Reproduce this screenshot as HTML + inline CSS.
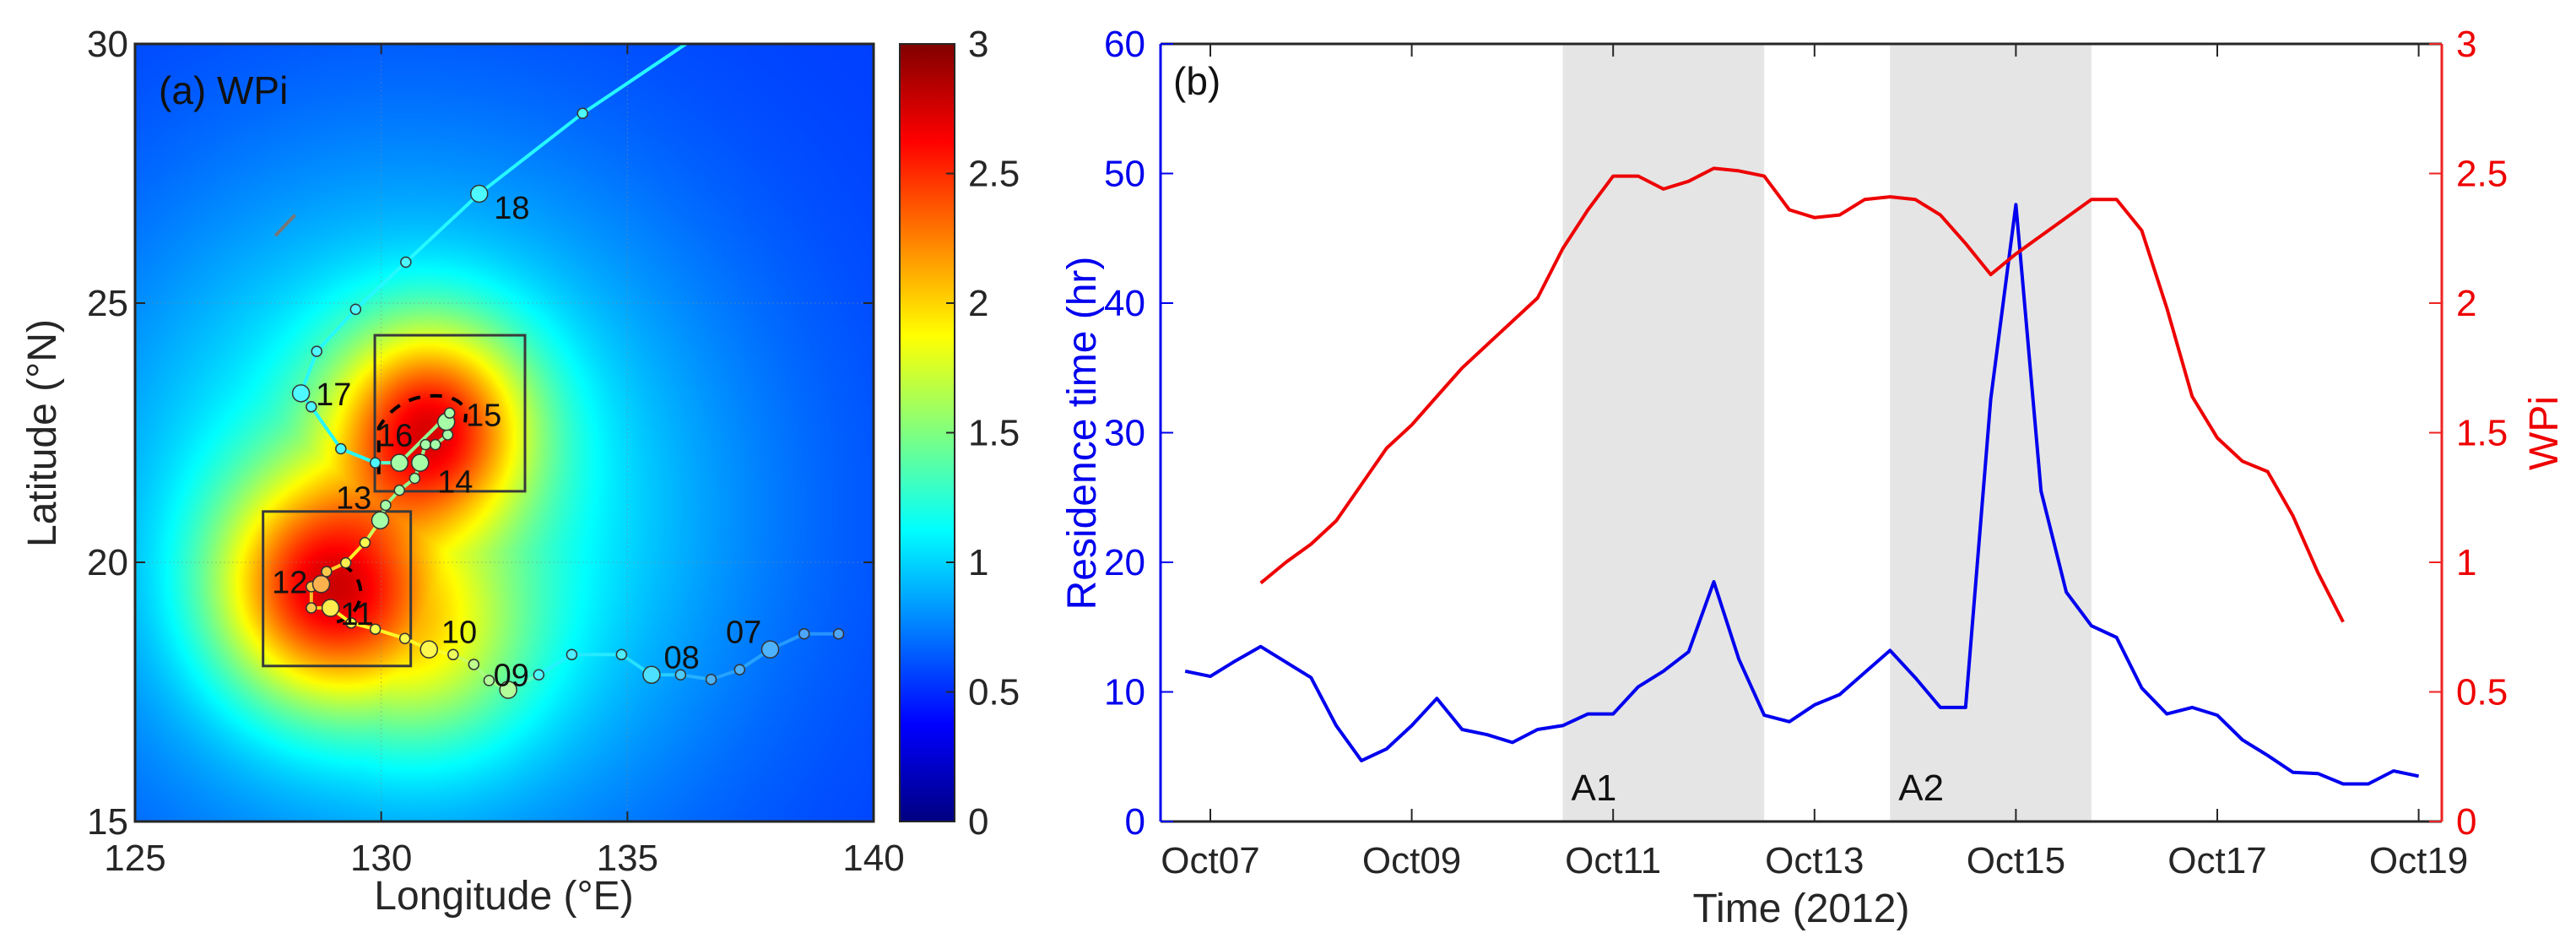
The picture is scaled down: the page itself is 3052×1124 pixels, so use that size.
<!DOCTYPE html>
<html><head><meta charset="utf-8"><style>
html,body{margin:0;padding:0;background:#fff;}
#wrap{position:relative;width:3052px;height:1124px;overflow:hidden;font-family:"Liberation Sans",Arial,sans-serif;}
#heat{position:absolute;left:160px;top:52px;width:875px;height:921px;}
#svg{position:absolute;left:0;top:0;}
</style></head><body>
<div id="wrap">
<canvas id="heat" width="219" height="231"></canvas>
<svg id="svg" width="3052" height="1124" xmlns="http://www.w3.org/2000/svg">
<defs>
<linearGradient id="jetg" x1="0" y1="1" x2="0" y2="0">
<stop offset="0" stop-color="#000080"/><stop offset="0.125" stop-color="#0000ff"/><stop offset="0.375" stop-color="#00ffff"/><stop offset="0.625" stop-color="#ffff00"/><stop offset="0.875" stop-color="#ff0000"/><stop offset="1" stop-color="#800000"/>
</linearGradient>
<clipPath id="clipA"><rect x="160" y="52" width="875" height="921"/></clipPath>
</defs>
<g id="gA"></g>
<g id="gB"></g>
</svg>
</div>
<script>
// ---------- Panel (a) data ----------
const trackLon = [139.29,138.59,137.90,137.28,136.70,136.08,135.49,134.88,133.87,133.20,132.58,132.19,131.88,131.46,130.97,130.48,129.88,129.39,128.97,128.58,128.58,128.78,128.89,129.28,129.67,129.98,130.09,130.37,130.68,130.79,130.90,131.10,131.35,131.32,131.39,130.37,129.88,129.18,128.58,128.37,128.69,129.48,130.50,131.99,134.09,136.19];
const trackLat = [18.62,18.62,18.32,17.93,17.74,17.83,17.83,18.22,18.22,17.83,17.54,17.72,18.03,18.22,18.32,18.53,18.71,18.83,19.12,19.12,19.53,19.58,19.82,19.99,20.38,20.81,21.10,21.39,21.62,21.92,22.27,22.27,22.46,22.71,22.88,21.92,21.92,22.19,23.00,23.26,24.07,24.88,25.79,27.11,28.66,30.00];
const trackVal = [0.75,0.75,0.8,0.8,0.8,0.9,1.0,1.05,1.05,1.1,1.55,1.55,1.6,1.8,1.9,1.9,1.9,1.9,1.95,2.1,2.1,2.2,2.1,1.95,1.9,1.5,1.5,1.5,1.5,1.5,1.5,1.5,1.5,1.5,1.5,1.5,1.1,1.1,1.1,1.1,1.1,1.1,1.1,1.1,1.1,1.1];
const trackBig = [0,0,1,0,0,0,1,0,0,0,1,0,0,0,1,0,0,0,1,0,0,1,0,0,0,1,0,0,0,1,0,0,0,1,0,1,0,0,0,1,0,0,0,1,0,-1];
const dayLabels = ["07","08","09","10","11","12","13","14","15","16","17","18"];
const dayLabelIdx = [2,6,10,14,18,21,25,29,33,35,39,43];
const dayLabelDx = [-0.9,0.25,-0.3,0.25,0.2,-1.0,-0.9,0.35,0.4,-0.45,0.3,0.3];
const dayLabelDy = [0.35,0.35,0.3,0.35,-0.1,0.05,0.45,-0.35,0.15,0.55,0.0,-0.25];
const lonTicks = [125,130,135,140];
const latTicks = [15,20,25,30];
const cbTicks = [0,0.5,1,1.5,2,2.5,3];
const hotLon = [128.8,131.0,131.0];
const hotLat = [19.5,22.6,18.5];
const hotAmp = [1.45,1.45,0.6];
const hotSig = [1.53,1.4,1.5];
// ---------- Panel (b) data ----------
const resTime = [-0.25,0,0.25,0.5,0.75,1,1.25,1.5,1.75,2,2.25,2.5,2.75,3,3.25,3.5,3.75,4,4.25,4.5,4.75,5,5.25,5.5,5.75,6,6.25,6.5,6.75,7,7.25,7.5,7.75,8,8.25,8.5,8.75,9,9.25,9.5,9.75,10,10.25,10.5,10.75,11,11.25,11.5,11.75,12];
const resVal = [11.6,11.2,12.4,13.5,12.3,11.1,7.4,4.7,5.6,7.4,9.5,7.1,6.7,6.1,7.1,7.4,8.3,8.3,10.4,11.6,13.1,18.5,12.5,8.2,7.7,9.0,9.8,11.5,13.2,11.1,8.8,8.8,32.6,47.6,25.5,17.7,15.1,14.2,10.3,8.3,8.8,8.2,6.3,5.1,3.8,3.7,2.9,2.9,3.9,3.5];
const wpiTime = [0.5,0.75,1,1.25,1.5,1.75,2,2.25,2.5,2.75,3,3.25,3.5,3.75,4,4.25,4.5,4.75,5,5.25,5.5,5.75,6,6.25,6.5,6.75,7,7.25,7.5,7.75,8,8.25,8.5,8.75,9,9.25,9.5,9.75,10,10.25,10.5,10.75,11,11.25];
const wpiVal = [0.92,1.0,1.07,1.16,1.30,1.44,1.53,1.64,1.75,1.84,1.93,2.02,2.21,2.36,2.49,2.49,2.44,2.47,2.52,2.51,2.49,2.36,2.33,2.34,2.40,2.41,2.40,2.34,2.23,2.11,2.19,2.26,2.33,2.40,2.40,2.28,1.98,1.64,1.48,1.39,1.35,1.18,0.96,0.77];
const shadeStart = [3.5,6.75];
const shadeEnd = [5.5,8.75];
const shadeLabels = ["A1","A2"];
const xTickDays = [0,2,4,6,8,10,12];
const xTickLabels = ["Oct07","Oct09","Oct11","Oct13","Oct15","Oct17","Oct19"];
const leftTicks = [0,10,20,30,40,50,60];
const rightTicks = [0,0.5,1,1.5,2,2.5,3];
const rightTickLabels = ["0","0.5","1","1.5","2","2.5","3"];

const NS="http://www.w3.org/2000/svg";
function mk(parent,tag,attrs,text){const e=document.createElementNS(NS,tag);for(const k in attrs)e.setAttribute(k,attrs[k]);if(text!==undefined)e.textContent=text;parent.appendChild(e);return e;}
function jet(v){const t=Math.max(0,Math.min(1,v/3));const c=x=>Math.round(255*Math.max(0,Math.min(1,x)));return [c(1.5-Math.abs(4*t-3)),c(1.5-Math.abs(4*t-2)),c(1.5-Math.abs(4*t-1))];}
function jetS(v,w){const c=jet(v);const m=w||0;return `rgb(${Math.round(c[0]+(255-c[0])*m)},${Math.round(c[1]+(255-c[1])*m)},${Math.round(c[2]+(255-c[2])*m)})`;}

const AX0=160,AX1=1035,AY0=52,AY1=973;
const lx=lon=>AX0+(lon-125)/15*(AX1-AX0);
const ly=lat=>AY1-(lat-15)/15*(AY1-AY0);
function field(lon,lat){
  const D2=(lon-130.5)**2+(lat-21)**2;
  let v=0.55+0.75*Math.exp(-D2/(2*4.5*4.5));
  const cs=[];
  for(let i=0;i<hotLon.length;i++){const d2=(lon-hotLon[i])**2+(lat-hotLat[i])**2;cs.push(hotAmp[i]*Math.exp(-d2/(2*hotSig[i]**2)));}
  cs.sort((a,b)=>b-a);
  return v+cs[0]+0.5*cs[1]+0.3*cs[2];
}
(function(){
  const cv=document.getElementById('heat');const ctx=cv.getContext('2d');
  const W=cv.width,H=cv.height;const img=ctx.createImageData(W,H);
  for(let j=0;j<H;j++)for(let i=0;i<W;i++){
    const lon=125+(i+0.5)/W*15, lat=30-(j+0.5)/H*15;
    const c=jet(field(lon,lat));const k=(j*W+i)*4;
    img.data[k]=c[0];img.data[k+1]=c[1];img.data[k+2]=c[2];img.data[k+3]=255;
  }
  ctx.putImageData(img,0,0);
})();
const gA=document.getElementById('gA');
for(const v of [130,135]){const l=mk(gA,'line',{x1:lx(v),x2:lx(v),y1:AY0,y2:AY1,stroke:'#888','stroke-width':1,'stroke-dasharray':'2,3',opacity:0.5});
}
for(const v of [20,25]){const l=mk(gA,'line',{x1:AX0,x2:AX1,y1:ly(v),y2:ly(v),stroke:'#888','stroke-width':1,'stroke-dasharray':'2,3',opacity:0.5});
}
const land=mk(gA,'line',{x1:lx(127.85),y1:ly(26.3),x2:lx(128.25),y2:ly(26.7),stroke:'#777','stroke-width':4});

const boxes=[[129.87,132.92,21.37,24.38],[127.6,130.6,18.0,20.98]];
boxes.forEach((b,i)=>{const r=mk(gA,'rect',{x:lx(b[0]),y:ly(b[3]),width:lx(b[1])-lx(b[0]),height:ly(b[2])-ly(b[3]),fill:'none',stroke:'#3a3a3a','stroke-width':3});
});
const c1=mk(gA,'path',{d:`M ${lx(129.2)} ${ly(19.95)} A 38 36 0 0 1 ${lx(129.1)} ${ly(18.85)}`,fill:'none',stroke:'#000','stroke-width':4,'stroke-dasharray':'14,12'});

const c2=mk(gA,'path',{d:`M ${lx(129.95)} ${ly(21.7)} L ${lx(129.95)} ${ly(22.6)} Q ${lx(130.4)} ${ly(23.3)} ${lx(131.3)} ${ly(23.2)} Q ${lx(131.8)} ${ly(23.1)} ${lx(131.7)} ${ly(22.7)}`,fill:'none',stroke:'#000','stroke-width':4,'stroke-dasharray':'14,12'});

const tg=mk(gA,'g',{'clip-path':'url(#clipA)'});

for(let i=0;i<trackLon.length-1;i++){
  const s=mk(tg,'line',{x1:lx(trackLon[i]),y1:ly(trackLat[i]),x2:lx(trackLon[i+1]),y2:ly(trackLat[i+1]),stroke:jetS((trackVal[i]+trackVal[i+1])/2,0.15),'stroke-width':4,'stroke-linecap':'round'});
  
}
for(let i=0;i<trackLon.length;i++){
  if(trackBig[i]<0)continue;
  const c=mk(tg,'circle',{cx:lx(trackLon[i]),cy:ly(trackLat[i]),r:trackBig[i]?10:6,fill:jetS(trackVal[i],0.3),stroke:'#333','stroke-width':1.5});
  
}
dayLabels.forEach((t,k)=>{const i=dayLabelIdx[k];
  const e=mk(gA,'text',{x:lx(trackLon[i]+dayLabelDx[k]),y:ly(trackLat[i]+dayLabelDy[k])+14,'font-size':38,fill:'#111'},t);
  });
const fA=mk(gA,'rect',{x:AX0,y:AY0,width:AX1-AX0,height:AY1-AY0,fill:'none',stroke:'#262626','stroke-width':3});

lonTicks.forEach(v=>{
  mk(gA,'line',{x1:lx(v),x2:lx(v),y1:AY1,y2:AY1-12,stroke:'#262626','stroke-width':2});
  mk(gA,'line',{x1:lx(v),x2:lx(v),y1:AY0,y2:AY0+12,stroke:'#262626','stroke-width':2});
  const t=mk(gA,'text',{x:lx(v),y:AY1+58,'font-size':44,'text-anchor':'middle',fill:'#262626'},String(v));
  
});
latTicks.forEach(v=>{
  mk(gA,'line',{x1:AX0,x2:AX0+12,y1:ly(v),y2:ly(v),stroke:'#262626','stroke-width':2});
  mk(gA,'line',{x1:AX1,x2:AX1-12,y1:ly(v),y2:ly(v),stroke:'#262626','stroke-width':2});
  const t=mk(gA,'text',{x:AX0-8,y:ly(v)+15,'font-size':44,'text-anchor':'end',fill:'#262626'},String(v));
  
});
const ta=mk(gA,'text',{x:188,y:123,'font-size':46,fill:'#111'},'(a) WPi');

const xtA=mk(gA,'text',{x:597,y:1077,'font-size':48,'text-anchor':'middle',fill:'#262626'},'Longitude (°E)');

const ytA=mk(gA,'text',{x:0,y:0,'font-size':48,'text-anchor':'middle',fill:'#262626',transform:'translate(66,513) rotate(-90)'},'Latitude (°N)');

const CB0=1066,CB1=1131;
const cbr=mk(gA,'rect',{x:CB0,y:AY0,width:CB1-CB0,height:AY1-AY0,fill:'url(#jetg)',stroke:'#262626','stroke-width':2});

cbTicks.forEach(v=>{const y=AY1-v/3*(AY1-AY0);
  mk(gA,'line',{x1:CB1,x2:CB1-10,y1:y,y2:y,stroke:'#262626','stroke-width':2});
  const t=mk(gA,'text',{x:1147,y:y+15,'font-size':44,fill:'#262626'},String(v));
  });

const BX0=1375,BX1=2893,BY0=52,BY1=973;
const bx=t=>1434+t*119.3;
const byL=v=>BY1-v/60*(BY1-BY0);
const byR=v=>BY1-v/3*(BY1-BY0);
const gB=document.getElementById('gB');
shadeStart.forEach((s,i)=>{
  const r=mk(gB,'rect',{x:bx(s),y:BY0,width:bx(shadeEnd[i])-bx(s),height:BY1-BY0,fill:'#e5e5e5'});
  
  const t=mk(gB,'text',{x:bx(s)+10,y:948,'font-size':44,fill:'#111'},shadeLabels[i]);
  
});
let d='';resTime.forEach((t,i)=>{d+=(i?'L':'M')+bx(t).toFixed(1)+' '+byL(resVal[i]).toFixed(1)+' ';});
const rl=mk(gB,'path',{d:d,fill:'none',stroke:'#0000ee','stroke-width':4,'stroke-linejoin':'round'});

d='';wpiTime.forEach((t,i)=>{d+=(i?'L':'M')+bx(t).toFixed(1)+' '+byR(wpiVal[i]).toFixed(1)+' ';});
const wl=mk(gB,'path',{d:d,fill:'none',stroke:'#ee0000','stroke-width':4,'stroke-linejoin':'round'});

mk(gB,'line',{x1:BX0,x2:BX1,y1:BY0,y2:BY0,stroke:'#262626','stroke-width':3});
mk(gB,'line',{x1:BX0,x2:BX1,y1:BY1,y2:BY1,stroke:'#262626','stroke-width':3});
const la=mk(gB,'line',{x1:BX0,x2:BX0,y1:BY0,y2:BY1,stroke:'#0000ee','stroke-width':3});

const ra=mk(gB,'line',{x1:BX1,x2:BX1,y1:BY0,y2:BY1,stroke:'#ee2222','stroke-width':3});

xTickDays.forEach((v,i)=>{
  mk(gB,'line',{x1:bx(v),x2:bx(v),y1:BY1,y2:BY1-15,stroke:'#262626','stroke-width':2});
  mk(gB,'line',{x1:bx(v),x2:bx(v),y1:BY0,y2:BY0+15,stroke:'#262626','stroke-width':2});
  const t=mk(gB,'text',{x:bx(v),y:1034,'font-size':44,'text-anchor':'middle',fill:'#262626'},xTickLabels[i]);
  
});
leftTicks.forEach(v=>{
  mk(gB,'line',{x1:BX0,x2:BX0+15,y1:byL(v),y2:byL(v),stroke:'#0000ee','stroke-width':2});
  const t=mk(gB,'text',{x:1357,y:byL(v)+15,'font-size':44,'text-anchor':'end',fill:'#0000ee'},String(v));
  
});
rightTicks.forEach((v,i)=>{
  mk(gB,'line',{x1:BX1,x2:BX1-15,y1:byR(v),y2:byR(v),stroke:'#ee2222','stroke-width':2});
  const t=mk(gB,'text',{x:2910,y:byR(v)+15,'font-size':44,fill:'#ee0000'},rightTickLabels[i]);
  
});
const tb=mk(gB,'text',{x:1390,y:112,'font-size':46,fill:'#111'},'(b)');

const xtB=mk(gB,'text',{x:2134,y:1092,'font-size':48,'text-anchor':'middle',fill:'#262626'},'Time (2012)');

const ytB=mk(gB,'text',{x:0,y:0,'font-size':48,'text-anchor':'middle',fill:'#0000ee',transform:'translate(1298,513) rotate(-90)'},'Residence time (hr)');

const ytR=mk(gB,'text',{x:0,y:0,'font-size':48,'text-anchor':'middle',fill:'#ee0000',transform:'translate(3030,513) rotate(-90)'},'WPi');

</script>
</body></html>
